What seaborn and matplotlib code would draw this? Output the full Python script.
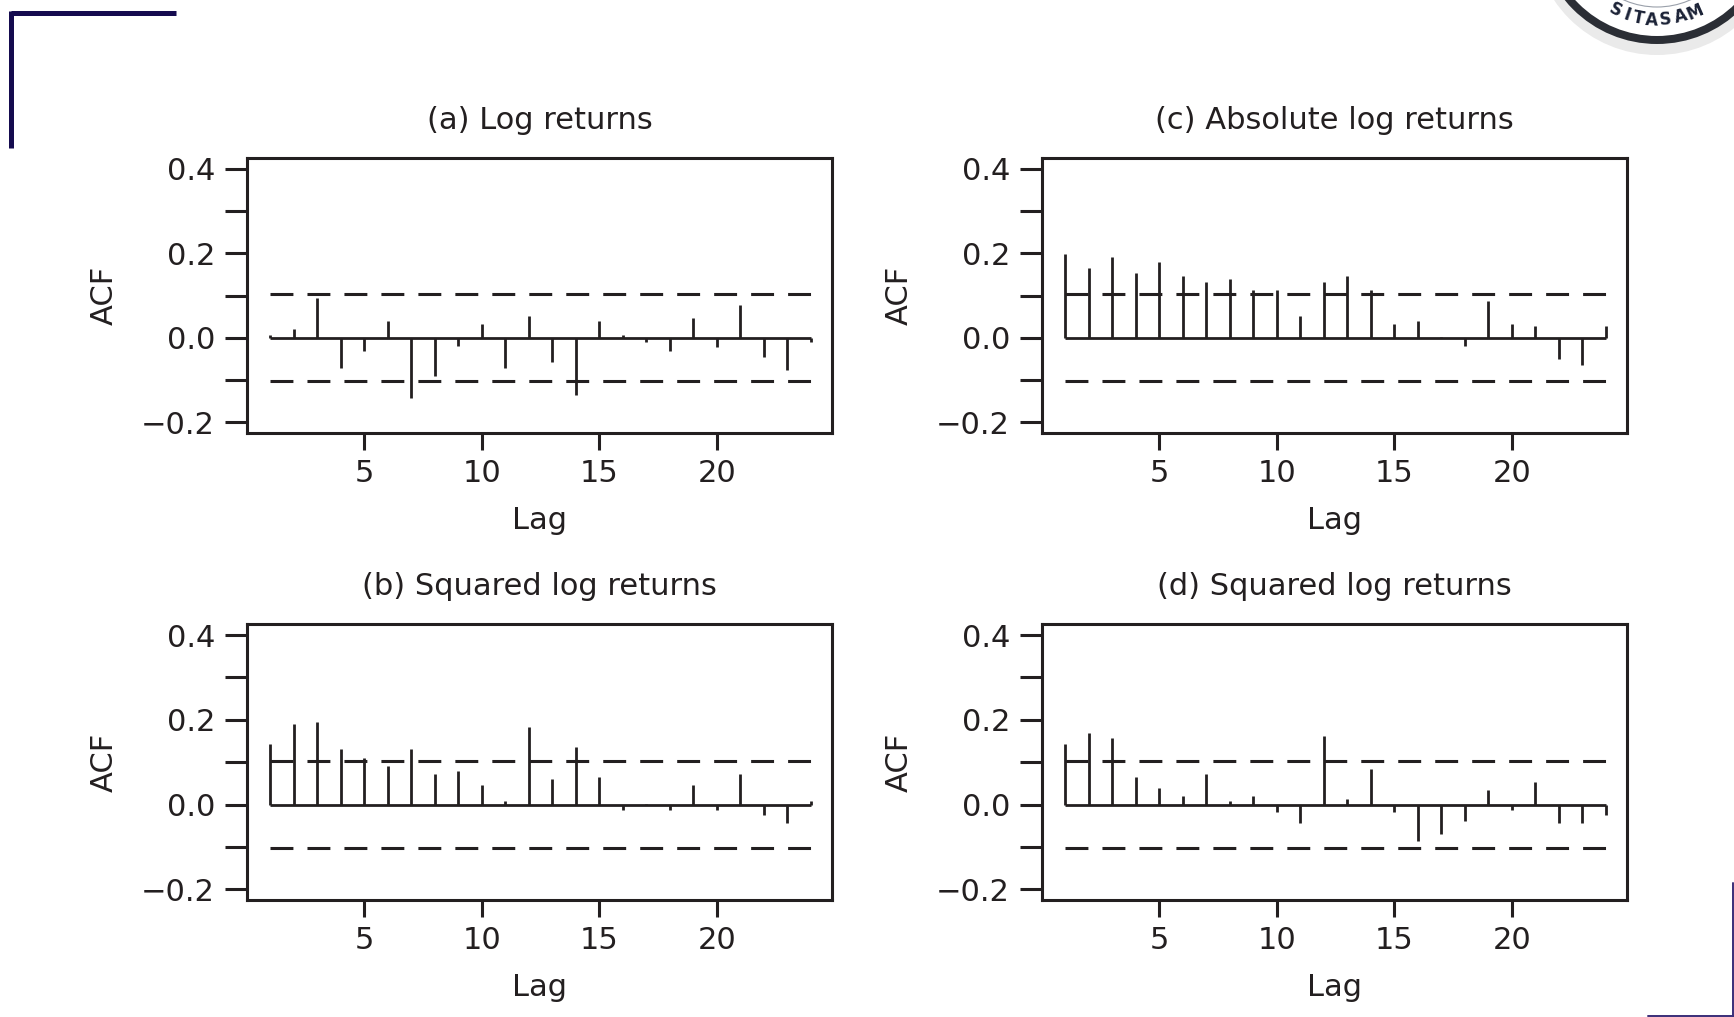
import numpy as np
import pandas as pd
import matplotlib.pyplot as plt
import matplotlib.patches as mpatches
from matplotlib.ticker import MultipleLocator
import seaborn as sns

# ---- data ------------------------------------------------------------------
lags = list(range(1, 25))

acf_log = [0.008, 0.022, 0.094, -0.070, -0.030, 0.041, -0.141, -0.090,
           -0.018, 0.034, -0.070, 0.053, -0.056, -0.134, 0.041, 0.008,
           -0.010, -0.030, 0.048, -0.022, 0.079, -0.044, -0.075, -0.010]
acf_abs = [0.198, 0.165, 0.191, 0.153, 0.179, 0.146, 0.132, 0.139,
           0.113, 0.113, 0.053, 0.132, 0.146, 0.113, 0.034, 0.041,
           0.002, -0.018, 0.087, 0.034, 0.029, -0.049, -0.063, 0.029]
acf_sq = [0.144, 0.189, 0.196, 0.132, 0.111, 0.092, 0.132, 0.073,
          0.080, 0.047, 0.009, 0.184, 0.061, 0.137, 0.066, -0.012,
          0.002, -0.012, 0.047, -0.012, 0.073, -0.024, -0.043, 0.009]
acf_sq2 = [0.144, 0.170, 0.158, 0.066, 0.040, 0.021, 0.073, 0.009,
           0.021, -0.017, -0.043, 0.163, 0.014, 0.085, -0.017, -0.087,
           -0.069, -0.038, 0.035, -0.012, 0.054, -0.043, -0.043, -0.024]
conf_band = 0.103

titles = ["(a) Log returns", "(c) Absolute log returns",
          "(b) Squared log returns", "(d) Squared log returns"]
series = [acf_log, acf_abs, acf_sq, acf_sq2]

# ---- style -----------------------------------------------------------------
INK = "#231f20"
sns.set_theme(style="ticks")
plt.rcParams["font.family"] = ["DejaVu Sans"]
plt.rcParams["text.color"] = INK
plt.rcParams["axes.labelcolor"] = INK
plt.rcParams["xtick.color"] = INK
plt.rcParams["ytick.color"] = INK

W, H = 1734, 1017
fig = plt.figure(figsize=(W / 100, H / 100), dpi=100)

# slide decorations (pixel coordinates, y up)
deco = fig.add_axes([0, 0, 1, 1])
deco.set_xlim(0, W)
deco.set_ylim(0, H)
deco.axis("off")
deco.plot([11, 176], [1004, 1004], color="#150b4f", lw=3.6, solid_capstyle="butt")
deco.plot([10.5, 10.5], [1006, 869], color="#150b4f", lw=3.6, solid_capstyle="butt")
deco.plot([1732.5, 1732.5], [134, 0], color="#3a2e78", lw=1.4)
deco.plot([1648, 1734], [1.5, 1.5], color="#3a2e78", lw=1.4)

# university seal peeking in at the top right
cx, cy = 1657, 1092
deco.add_patch(mpatches.Circle((cx, cy - 6), 124, fc="#dcdcdc", ec="none", alpha=0.6))
deco.add_patch(mpatches.Circle((cx, cy), 119, fc="#2b2e35", ec="none"))
deco.add_patch(mpatches.Circle((cx, cy), 111, fc="white", ec="none"))
deco.add_patch(mpatches.Circle((cx, cy), 82, fc="none", ec="#9aa0aa", lw=0.8))
seal_letters = "SITAS AM"
seal_angles = [-116, -108.5, -101, -93, -85, -80, -75.5, -66.5]
for ch, a in zip(seal_letters, seal_angles):
    r = np.deg2rad(a)
    deco.text(cx + 95 * np.cos(r), cy + 95 * np.sin(r), ch, rotation=a + 90,
              ha="center", va="center", fontsize=12, fontweight="bold",
              color="#1b2236", rotation_mode="anchor")

# ---- the four ACF panels ---------------------------------------------------
boxes = [[247, 158, 832, 433], [1042, 158, 1627, 433],
         [247, 624, 832, 900], [1042, 624, 1627, 900]]

for (x0, y0, x1, y1), vals, title in zip(boxes, series, titles):
    ax = fig.add_axes([x0 / W, 1 - y1 / H, (x1 - x0) / W, (y1 - y0) / H])
    df = pd.DataFrame({"lag": lags, "acf": vals})

    ax.vlines(df["lag"], 0, df["acf"], color=INK, lw=2.0)
    ax.hlines(0, lags[0], lags[-1], color=INK, lw=2.0)
    for yb in (conf_band, -conf_band):
        ax.hlines(yb, lags[0], lags[-1], color=INK, lw=2.2,
                  linestyles=(0, (7.5, 4.6)))

    ax.set_xlim(0.0, 24.9)
    ax.set_ylim(-0.225, 0.426)
    ax.set_xticks([5, 10, 15, 20])
    ax.yaxis.set_major_locator(MultipleLocator(0.2))
    ax.yaxis.set_minor_locator(MultipleLocator(0.1))
    ax.yaxis.set_major_formatter(plt.FuncFormatter(lambda v, p: f"{v:.1f}".replace("-", "\u2212")))

    for s in ax.spines.values():
        s.set_visible(True)
        s.set_linewidth(2.2)
        s.set_color(INK)
    ax.tick_params(axis="y", which="both", length=16, width=2.2, pad=7, labelsize=22)
    ax.tick_params(axis="x", length=12, width=2.2, pad=7, labelsize=22)

    ax.set_title(title, fontsize=22, pad=21)
    ax.set_xlabel("Lag", fontsize=22, labelpad=13)
    ax.set_ylabel("ACF", fontsize=22, labelpad=16)

fig.savefig("out.png", dpi=100)
